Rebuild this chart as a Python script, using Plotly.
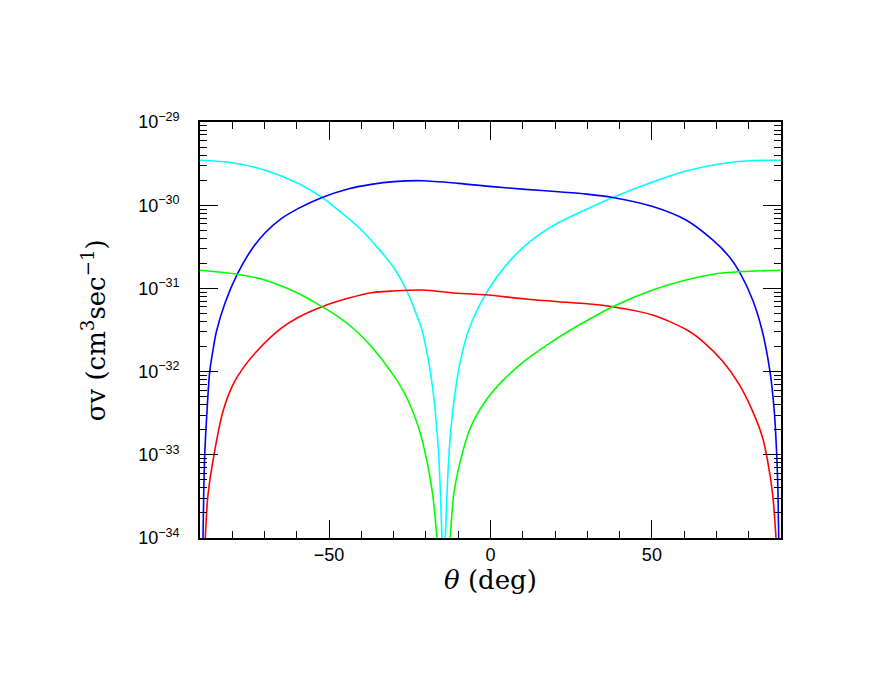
import plotly.graph_objects as go

# ---- data (theta in deg, sigma*v in cm^3 s^-1) ----
cyan_theta = [-90, -80, -70, -60, -52.2, -50, -40, -29.9, -25.9, -23.3, -21.4, -19.36, -17.91, -16.88, -16.05, -15.55,
              -15.03,
              None,
              -14.0, -13.48, -12.95, -12.15, -10.91, -9.2, -6.75, -1.6, 5.64, 12.86, 21.13, 29.9, 37.86, 50.25, 60.57,
              70.89, 81.23, 90]
cyan_sv = [3.47e-30, 3.24e-30, 2.65e-30, 1.86e-30, 1.24e-30, 1.07e-30, 5.04e-31, 1.76e-31, 9.3e-32, 5.28e-32, 3.34e-32,
           1.46e-32, 6.35e-33, 2.62e-33, 9.95e-34, 3.78e-34, 1.0e-34,
           None,
           1.0e-34, 3.33e-34, 8.91e-34, 2.28e-33, 5.85e-33, 1.42e-32, 3.16e-32, 8.4e-32, 2.07e-31, 3.82e-31, 6.19e-31,
           9.0e-31, 1.24e-30, 1.90e-30, 2.58e-30, 3.13e-30, 3.44e-30, 3.47e-30]

blue_theta = [-89.07, -88.85, -88.54, -87.83, -86.99, -85.76, -84.95, -82.25, -78.44, -74.11, -69.96, -64.81, -59.64,
              -52.2, -44.15, -36.93, -29.9, -21.2, -9.85, 0.46, 10.8, 21.1, 29.9, 37.86, 50.25, 60.57, 68.84, 73.98,
              77.08, 81.23, 84.11, 86.59, 87.92, 88.67, 89.07, 89.29]
blue_sv = [1.0e-34, 3.32e-34, 1.0e-33, 3.33e-33, 1.0e-32, 2.03e-32, 2.99e-32, 6.68e-32, 1.48e-31, 2.90e-31, 4.61e-31,
           6.90e-31, 9.10e-31, 1.24e-30, 1.57e-30, 1.78e-30, 1.92e-30, 1.97e-30, 1.83e-30, 1.67e-30, 1.55e-30,
           1.45e-30, 1.36e-30, 1.24e-30, 9.64e-31, 6.64e-31, 3.82e-31, 2.40e-31, 1.59e-31, 7.26e-32, 3.16e-32,
           1.0e-32, 3.33e-33, 1.0e-33, 3.32e-34, 1.0e-34]

red_theta = [-88.36, -87.52, -85.66, -82.87, -79.78, -76.68, -72.03, -64.91, -59.64, -52.2, -44.15, -36.93, -30.2,
             -21.2, -9.85, -1.6, 10.8, 21.1, 29.9, 37.86, 50.25, 60.9, 65.74, 71.94, 77.08, 81.23, 84.33, 85.88,
             87.43, 88.45]
red_sv = [1.0e-34, 3.32e-34, 1.0e-33, 3.33e-33, 6.97e-33, 1.10e-32, 1.82e-32, 3.30e-32, 4.47e-32, 6.03e-32, 7.60e-32,
          8.87e-32, 9.31e-32, 9.57e-32, 8.73e-32, 8.40e-32, 7.46e-32, 6.92e-32, 6.55e-32, 6.03e-32, 4.79e-32,
          3.16e-32, 2.31e-32, 1.33e-32, 6.97e-33, 3.33e-33, 1.59e-33, 8.35e-34, 3.32e-34, 1.0e-34]

green_theta = [-90, -78.44, -69.96, -59.64, -52.2, -47.25, -42.3, -36.93, -30.2, -26.39, -22.24, -19.67, -17.91,
               -16.58,
               None,
               -12.45, -11.4, -9.36, -6.26, -1.61, 3.56, 10.78, 18.03, 24.01, 30.21, 37.86, 50.25, 60.57, 70.89,
               77.3, 90]
green_sv = [1.65e-31, 1.48e-31, 1.26e-31, 8.73e-32, 6.03e-32, 4.57e-32, 3.25e-32, 2.00e-32, 9.2e-33, 5.27e-33,
            2.10e-33, 8.35e-34, 3.32e-34, 1.0e-34,
            None,
            1.0e-34, 3.32e-34, 8.35e-34, 2.10e-33, 4.40e-33, 7.64e-33, 1.36e-32, 2.15e-32, 3.03e-32, 4.17e-32,
            6.03e-32, 9.57e-32, 1.26e-31, 1.52e-31, 1.59e-31, 1.65e-31]

y_tick_exps = [-34, -33, -32, -31, -30, -29]
x_tick_vals = [-50, 0, 50]
x_tick_text = ["\u221250", "0", "50"]

series = [
    (cyan_theta, cyan_sv, "#00FFFF"),
    (blue_theta, blue_sv, "#0000FF"),
    (red_theta, red_sv, "#FF0000"),
    (green_theta, green_sv, "#00FF00"),
]

fig = go.Figure()
for th, sv, col in series:
    fig.add_trace(go.Scatter(x=th, y=sv, mode="lines",
                             line=dict(color=col, width=1.6, shape="spline", smoothing=0.8),
                             connectgaps=False, showlegend=False, hoverinfo="skip"))

tickfont = dict(family="Liberation Sans, Arial, sans-serif", size=18, color="black")

fig.update_xaxes(range=[-90, 90], tickvals=x_tick_vals, ticktext=x_tick_text,
                 ticks="inside", ticklen=18, tickwidth=1.3, tickcolor="black",
                 showline=True, linecolor="black", linewidth=1.5, mirror="allticks",
                 showgrid=False, zeroline=False, tickfont=tickfont, ticklabelstandoff=0,
                 minor=dict(dtick=10, ticks="inside", ticklen=7, tickwidth=1.3, tickcolor="black", showgrid=False))

fig.update_yaxes(type="log", range=[-34, -29],
                 tickvals=[10.0 ** e for e in y_tick_exps],
                 ticktext=["10<sup>\u2212%d</sup>" % (-e) for e in y_tick_exps],
                 ticks="inside", ticklen=18, tickwidth=1.3, tickcolor="black",
                 showline=True, linecolor="black", linewidth=1.5, mirror="allticks",
                 showgrid=False, zeroline=False, tickfont=tickfont, ticklabelstandoff=15,
                 minor=dict(dtick="D1", ticks="inside", ticklen=7, tickwidth=1.3, tickcolor="black", showgrid=False))

titlefont = dict(family="DejaVu Serif, Liberation Serif, serif", size=26, color="black")
fig.add_annotation(text="<i>\u03b8</i> (deg)", xref="paper", yref="paper", x=0.5, y=-0.101,
                   xanchor="center", yanchor="middle", showarrow=False, font=titlefont)
fig.add_annotation(text="\u03c3v (cm<sup>3</sup>sec<sup>\u22121</sup>)", xref="paper", yref="paper",
                   x=-0.182, y=0.5, xanchor="center", yanchor="middle", textangle=-90,
                   showarrow=False, font=titlefont)

fig.update_layout(width=880, height=676, margin=dict(l=192, r=107, t=114, b=146, autoexpand=False),
                  paper_bgcolor="white", plot_bgcolor="white")

fig.write_html("out.html")
